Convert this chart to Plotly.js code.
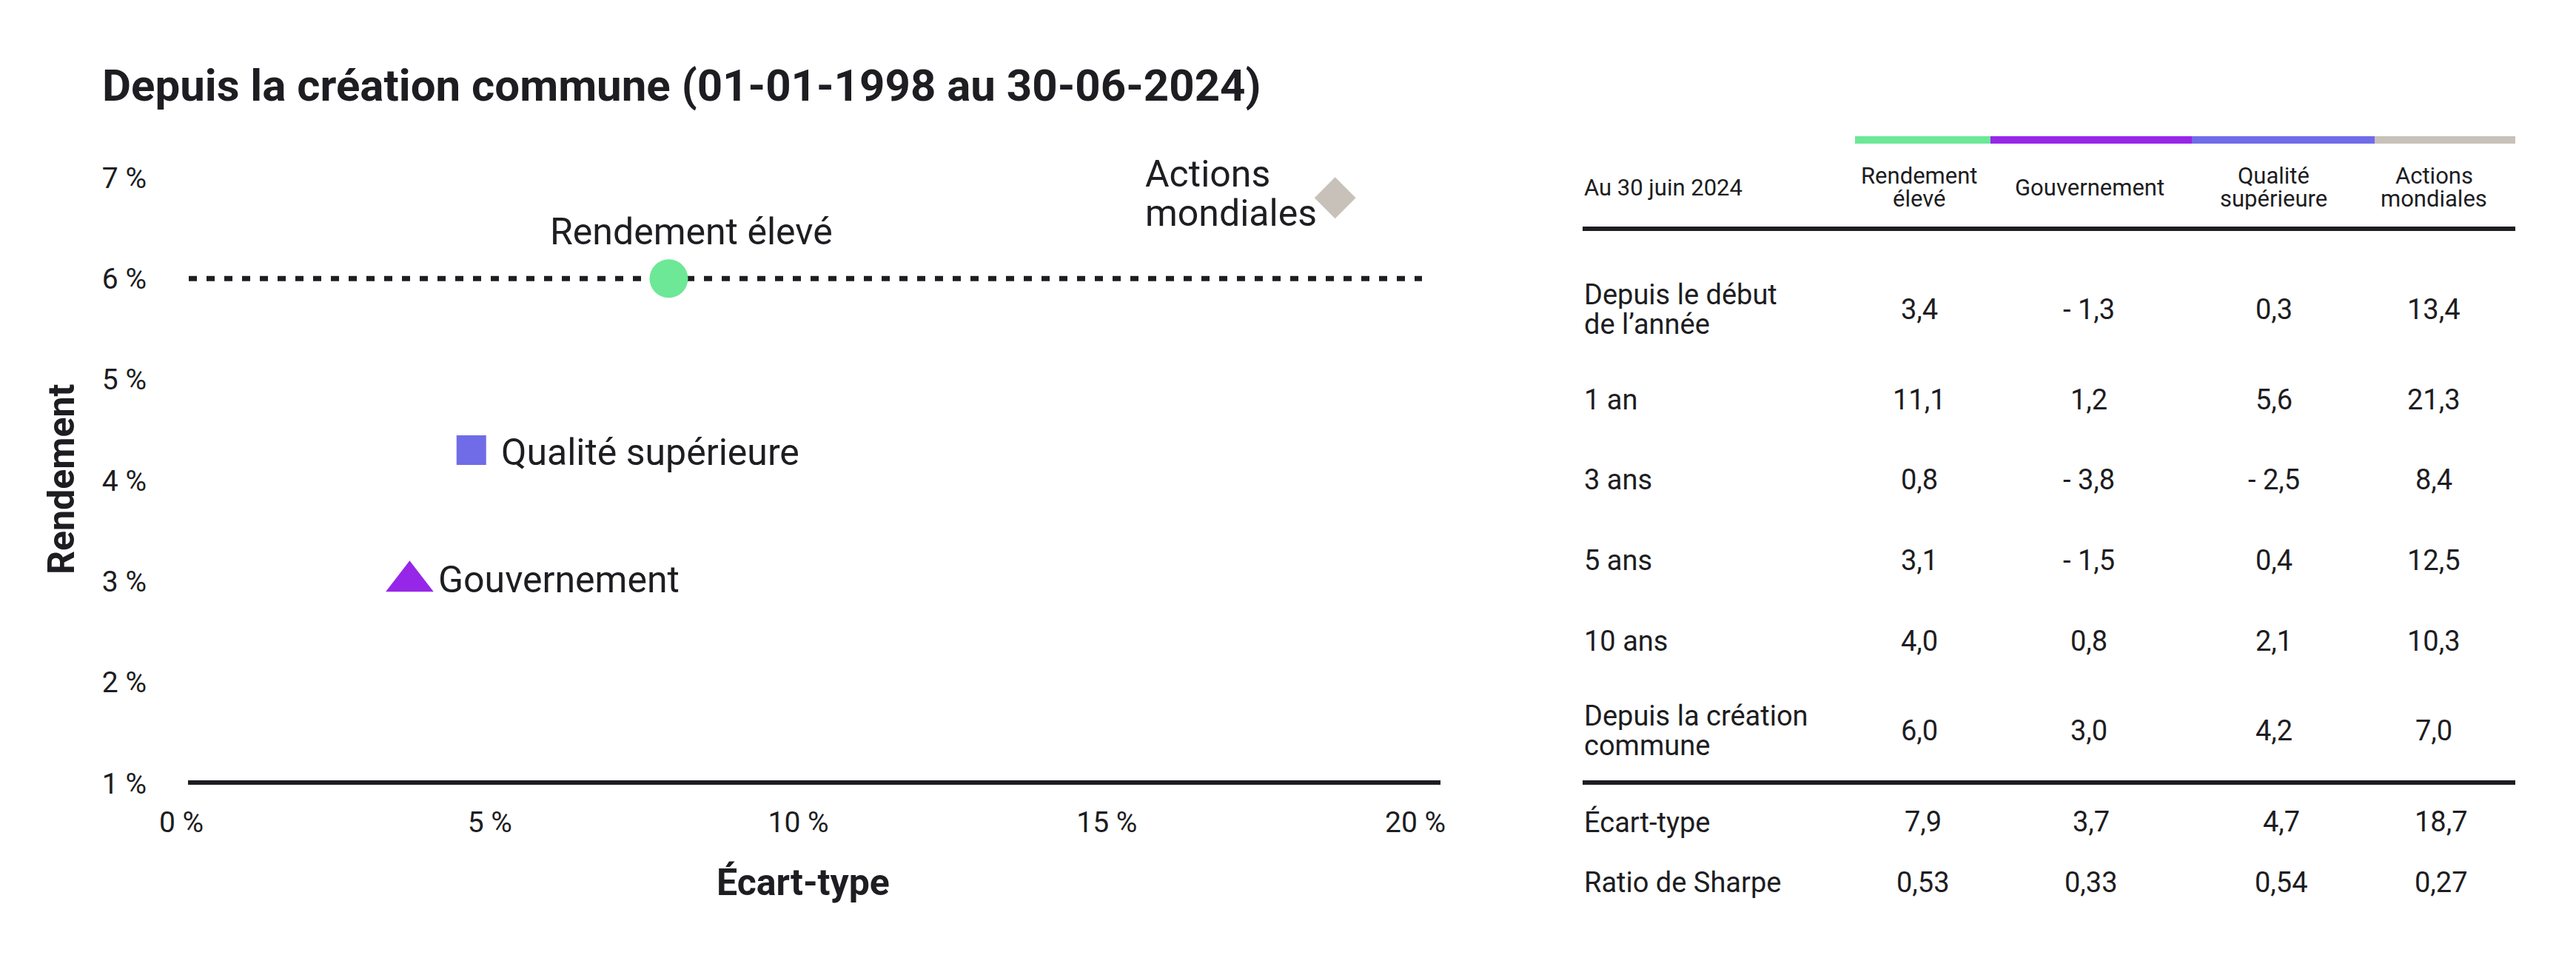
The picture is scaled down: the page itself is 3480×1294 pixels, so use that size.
<!DOCTYPE html>
<html lang="fr">
<head>
<meta charset="utf-8">
<script src="https://cdn.plot.ly/plotly-3.0.1.min.js"></script>
<style>
  html, body { margin: 0; padding: 0; background: #ffffff; }
  #chart { width: 3480px; height: 1294px; }
</style>
</head>
<body>
<div id="chart"></div>
<script>
// ---- Données ----
const funds = ['Rendement élevé', 'Gouvernement', 'Qualité supérieure', 'Actions mondiales'];

// Nuage de points : écart-type (x) et rendement (y) depuis la création commune
const ecartType = [7.9, 3.7, 4.7, 18.7];
const rendementPoint = [6.0, 3.0, 4.3, 6.8];

// Tableau des rendements au 30 juin 2024
const periodes = ['Depuis le début\nde l’année', '1 an', '3 ans', '5 ans', '10 ans', 'Depuis la création\ncommune'];
const rendementEleve = [3.4, 11.1, 0.8, 3.1, 4.0, 6.0];
const gouvernement = [-1.3, 1.2, -3.8, -1.5, 0.8, 3.0];
const qualiteSuperieure = [0.3, 5.6, -2.5, 0.4, 2.1, 4.2];
const actionsMondiales = [13.4, 21.3, 8.4, 12.5, 10.3, 7.0];
const ratioSharpe = [0.53, 0.33, 0.54, 0.27];

const xTicks = [0, 5, 10, 15, 20];
const yTicks = [1, 2, 3, 4, 5, 6, 7];

// ---- Style ----
const W = 3480, H = 1294;
const fx = p => p / W;          // pixel -> fraction horizontale
const fy = p => 1 - p / H;      // pixel -> fraction verticale
const INK = '#1d1d22';
const FONT = 'Roboto, "Open Sans", sans-serif';
const colors = ['#6CE896', '#9626E8', '#706CE8', '#C8C1BA'];
const symbols = ['circle', 'triangle-up', 'square', 'diamond'];
const sizes = [52, 56, 40, 43];

const fmt1 = v => (v < 0 ? '- ' : '') + Math.abs(v).toFixed(1).replace('.', ',');
const fmt2 = v => (v < 0 ? '- ' : '') + Math.abs(v).toFixed(2).replace('.', ',');

// ---- Nuage de points ----
const scatter = {
  type: 'scatter', mode: 'markers',
  x: ecartType, y: rendementPoint,
  text: funds, hoverinfo: 'text',
  marker: { symbol: symbols, color: colors, size: sizes, opacity: 1, line: { width: 0 } },
  cliponaxis: false
};

const annotations = [];
const shapes = [];

// Étiquettes des points : décalages en pixels et ancrage
const labelPlacement = [
  { dx: 31, dy: 63, anchor: 'center' },
  { dx: 37, dy: 2, anchor: 'left' },
  { dx: 38, dy: -3, anchor: 'left' }
];
funds.forEach((name, i) => {
  if (i < 3) {
    const p = labelPlacement[i];
    annotations.push({
      text: name, xref: 'x', yref: 'y', x: ecartType[i], y: rendementPoint[i],
      xshift: p.dx, yshift: p.dy, xanchor: p.anchor, yanchor: 'middle',
      showarrow: false, font: { family: FONT, size: 50, color: INK }
    });
  } else {
    // libellé sur deux lignes serrées, aligné à gauche du losange
    name.split(' ').forEach((line, k) => {
      annotations.push({
        text: line, xref: 'x', yref: 'y', x: ecartType[i], y: rendementPoint[i],
        xshift: -259, yshift: 32.5 - 53 * k, xanchor: 'left', yanchor: 'middle',
        height: 48, valign: 'middle',
        showarrow: false, font: { family: FONT, size: 50, color: INK }
      });
    });
  }
});

// Titres des axes
annotations.push({
  text: 'Rendement', xref: 'paper', yref: 'paper', x: fx(83), y: fy(648),
  textangle: -90, xanchor: 'center', yanchor: 'middle', showarrow: false,
  font: { family: FONT, size: 50, color: INK, weight: 700 }
});
annotations.push({
  text: 'Écart-type', xref: 'paper', yref: 'paper', x: fx(1085), y: fy(1192),
  xanchor: 'center', yanchor: 'middle', showarrow: false,
  font: { family: FONT, size: 50, color: INK, weight: 700 }
});

// Ligne de base et ligne pointillée au niveau du rendement élevé
shapes.push({
  type: 'line', xref: 'paper', yref: 'paper', x0: fx(254), x1: fx(1946), y0: fy(1057), y1: fy(1057),
  line: { color: INK, width: 6 }
});
shapes.push({
  type: 'line', xref: 'paper', yref: 'y', x0: fx(255), x1: fx(1921),
  y0: rendementPoint[0], y1: rendementPoint[0],
  line: { color: INK, width: 7, dash: '11px,13px' }, layer: 'below'
});

// ---- Tableau ----
const tableSeries = [rendementEleve, gouvernement, qualiteSuperieure, actionsMondiales];
const colHead = [2592, 2823, 3071, 3288];
const colBody = [2593, 2822, 3072, 3288];
const colStats = [2598, 2825, 3082, 3298];
const bandEdges = [2506, 2689, 2961, 3208, 3398];
const rowY = [418, 540, 648, 757, 866, 987];
const statY = [1110, 1192];
const TL = 2138, TR = 3398;

function cellText(text, xPix, yPix, anchor, size, gap) {
  const lines = text.split('\n');
  lines.forEach((line, k) => {
    annotations.push({
      text: line, xref: 'paper', yref: 'paper',
      x: fx(xPix), y: fy(yPix + (k - (lines.length - 1) / 2) * gap),
      xanchor: anchor, yanchor: 'middle', showarrow: false,
      height: lines.length > 1 ? gap - 2 : null, valign: 'middle',
      font: { family: FONT, size: size, color: INK }
    });
  });
}

// bandeaux de couleur au-dessus des colonnes
funds.forEach((f, i) => {
  shapes.push({
    type: 'rect', xref: 'paper', yref: 'paper',
    x0: fx(bandEdges[i]), x1: fx(bandEdges[i + 1]), y0: fy(194), y1: fy(184),
    fillcolor: colors[i], line: { width: 0 }
  });
});

// en-têtes
cellText('Au 30 juin 2024', TL, 253, 'left', 31, 31);
funds.forEach((f, i) => cellText(f.replace(' ', '\n'), colHead[i], 253, 'center', 31, 31));

shapes.push({ type: 'line', xref: 'paper', yref: 'paper', x0: fx(TL), x1: fx(TR), y0: fy(309), y1: fy(309), line: { color: INK, width: 6 } });

// rendements par période
periodes.forEach((p, r) => {
  cellText(p, TL, rowY[r], 'left', 38, 40);
  tableSeries.forEach((s, c) => cellText(fmt1(s[r]), colBody[c], rowY[r], 'center', 38, 40));
});

shapes.push({ type: 'line', xref: 'paper', yref: 'paper', x0: fx(TL), x1: fx(TR), y0: fy(1057), y1: fy(1057), line: { color: INK, width: 6 } });

// statistiques de risque
cellText('Écart-type', TL, statY[0], 'left', 38, 40);
cellText('Ratio de Sharpe', TL, statY[1], 'left', 38, 40);
ecartType.forEach((v, c) => cellText(fmt1(v), colStats[c], statY[0], 'center', 38, 40));
ratioSharpe.forEach((v, c) => cellText(fmt2(v), colStats[c], statY[1], 'center', 38, 40));

// ---- Mise en page ----
const layout = {
  width: W, height: H,
  margin: { l: 0, r: 0, t: 0, b: 0 },
  paper_bgcolor: '#ffffff', plot_bgcolor: '#ffffff',
  showlegend: false,
  font: { family: FONT, color: INK },
  title: {
    text: 'Depuis la création commune (01-01-1998 au 30-06-2024)',
    xref: 'container', yref: 'container',
    x: fx(138), xanchor: 'left', y: fy(115), yanchor: 'middle',
    font: { family: FONT, size: 60, color: INK, weight: 700 }
  },
  xaxis: {
    domain: [fx(245), fx(1912)], range: [0, 20],
    tickvals: xTicks, ticktext: xTicks.map(v => v + ' %'),
    showgrid: false, zeroline: false, showline: false, ticks: '',
    ticklabelstandoff: 26,
    tickfont: { family: FONT, size: 39, color: INK },
    fixedrange: true
  },
  yaxis: {
    domain: [fy(1058), fy(240)], range: [1, 7],
    tickvals: yTicks, ticktext: yTicks.map(v => v + ' %'),
    showgrid: false, zeroline: false, showline: false, ticks: '',
    ticklabelstandoff: 46,
    tickfont: { family: FONT, size: 39, color: INK },
    fixedrange: true
  },
  shapes: shapes,
  annotations: annotations
};

Plotly.newPlot('chart', [scatter], layout, { displayModeBar: false, responsive: false });
</script>
</body>
</html>
